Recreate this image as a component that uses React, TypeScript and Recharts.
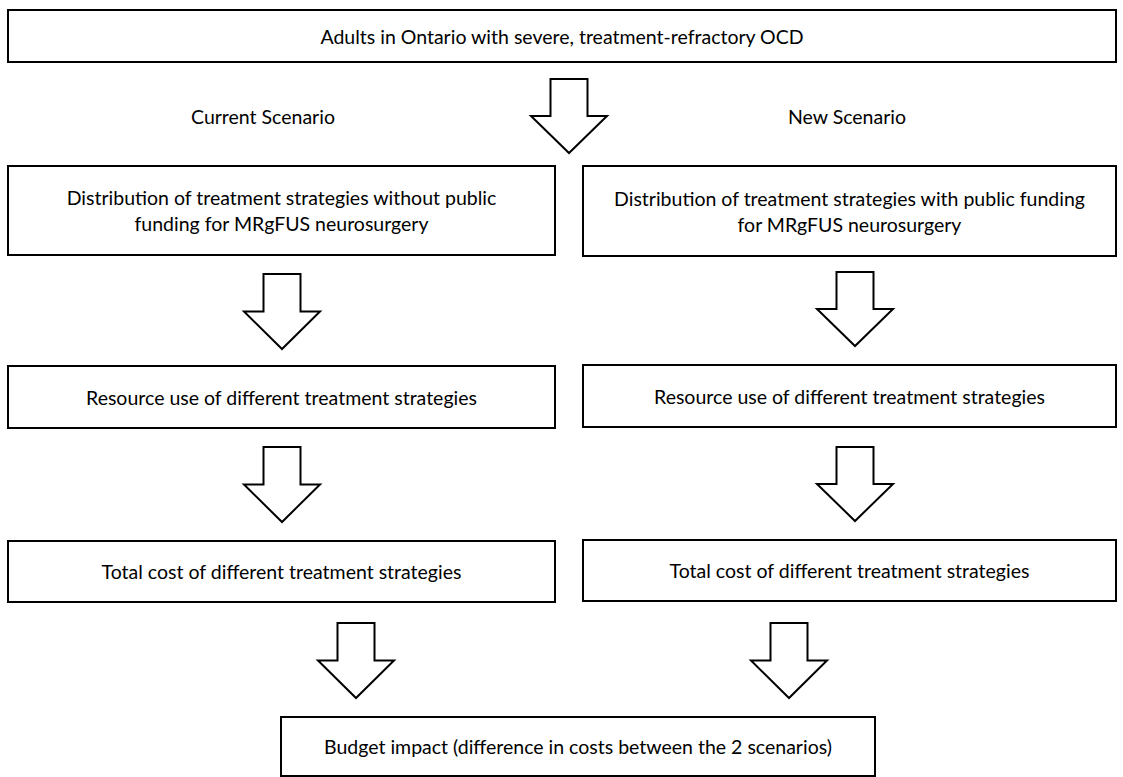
import React from 'react';
import { ScatterChart, Scatter, XAxis, YAxis, ReferenceArea } from 'recharts';

// flowchart text
const headerLabel = 'Adults in Ontario with severe, treatment-refractory OCD';
const scenarioLabels = ['Current Scenario', 'New Scenario'];
const currentSteps = [
  ['Distribution of treatment strategies without public', 'funding for MRgFUS neurosurgery'],
  ['Resource use of different treatment strategies'],
  ['Total cost of different treatment strategies'],
];
const newSteps = [
  ['Distribution of treatment strategies with public funding', 'for MRgFUS neurosurgery'],
  ['Resource use of different treatment strategies'],
  ['Total cost of different treatment strategies'],
];
const outcomeLabel = ['Budget impact (difference in costs between the 2 scenarios)'];

// layout in chart units (1 unit = 1px)
const W = 1123;
const H = 777;
const headerBand = { x1: 8, x2: 1116, y1: 10, y2: 62 };
const leftCol = [8, 555];
const rightCol = [583, 1116];
const leftRows = [[166, 255], [366, 428], [541, 602]];
const rightRows = [[166, 256], [365, 427], [540, 601]];
const outcomeBand = { x1: 281, x2: 875, y1: 717, y2: 776 };
const scenarioPos = [{ x: 263, y: 116 }, { x: 847, y: 116 }];
const arrows = [
  { x: 569, y: 79, tip: 153 },
  { x: 282, y: 274, tip: 349 },
  { x: 855, y: 272, tip: 346 },
  { x: 282, y: 447, tip: 522 },
  { x: 855, y: 447, tip: 521 },
  { x: 356, y: 623, tip: 698 },
  { x: 789, y: 623, tip: 698 },
];

const FONT = 'Lato, "Open Sans", sans-serif';
const FONT_SIZE = 19.5;

const boxLabel = (lines: string[]) => (props: any) => {
  const { x, y, width, height } = props.viewBox;
  const cx = x + width / 2;
  const cy = y + height / 2;
  const gap = 26;
  const start = cy - ((lines.length - 1) * gap) / 2;
  return (
    <text textAnchor="middle" fontFamily={FONT} fontSize={FONT_SIZE} fill="#000">
      {lines.map((l, i) => (
        <tspan key={i} x={cx} y={start + i * gap} dominantBaseline="central">
          {l}
        </tspan>
      ))}
    </text>
  );
};

const BlockArrow = (props: any) => {
  const { cx, cy, payload } = props;
  const len = payload.tip - payload.y;
  const shaft = 18.5;
  const head = 38;
  const neck = cy + len / 2;
  const pts = [
    [cx - shaft, cy],
    [cx + shaft, cy],
    [cx + shaft, neck],
    [cx + head, neck],
    [cx, cy + len],
    [cx - head, neck],
    [cx - shaft, neck],
  ]
    .map((p) => p.join(','))
    .join(' ');
  return <polygon points={pts} fill="#fff" stroke="#000" strokeWidth={2} />;
};

const ScenarioText = (props: any) => {
  const { cx, cy, payload } = props;
  return (
    <text x={cx} y={cy} textAnchor="middle" dominantBaseline="central" fontFamily={FONT} fontSize={FONT_SIZE} fill="#000">
      {payload.label}
    </text>
  );
};

const box = (key: string, x: number[], y: number[], lines: string[]) => (
  <ReferenceArea
    key={key}
    x1={x[0]}
    x2={x[1]}
    y1={y[0]}
    y2={y[1]}
    fill="#fff"
    fillOpacity={1}
    stroke="#000"
    strokeWidth={2}
    ifOverflow="visible"
    label={boxLabel(lines)}
  />
);

export default function App() {
  const scenarioData = scenarioLabels.map((label, i) => ({ ...scenarioPos[i], label }));
  return (
    <div style={{ position: 'absolute', left: 0, top: 0, width: W, height: H, background: '#fff' }}>
      <ScatterChart width={W} height={H} margin={{ top: 0, right: 0, bottom: 0, left: 0 }}>
        <XAxis type="number" dataKey="x" domain={[0, W]} hide allowDataOverflow />
        <YAxis type="number" dataKey="y" domain={[0, H]} reversed hide allowDataOverflow />
        {box('header', [headerBand.x1, headerBand.x2], [headerBand.y1, headerBand.y2], [headerLabel])}
        {currentSteps.map((lines, i) => box(`c${i}`, leftCol, leftRows[i], lines))}
        {newSteps.map((lines, i) => box(`n${i}`, rightCol, rightRows[i], lines))}
        {box('outcome', [outcomeBand.x1, outcomeBand.x2], [outcomeBand.y1, outcomeBand.y2], outcomeLabel)}
        <Scatter data={arrows} shape={<BlockArrow />} isAnimationActive={false} />
        <Scatter data={scenarioData} shape={<ScenarioText />} isAnimationActive={false} />
      </ScatterChart>
    </div>
  );
}
